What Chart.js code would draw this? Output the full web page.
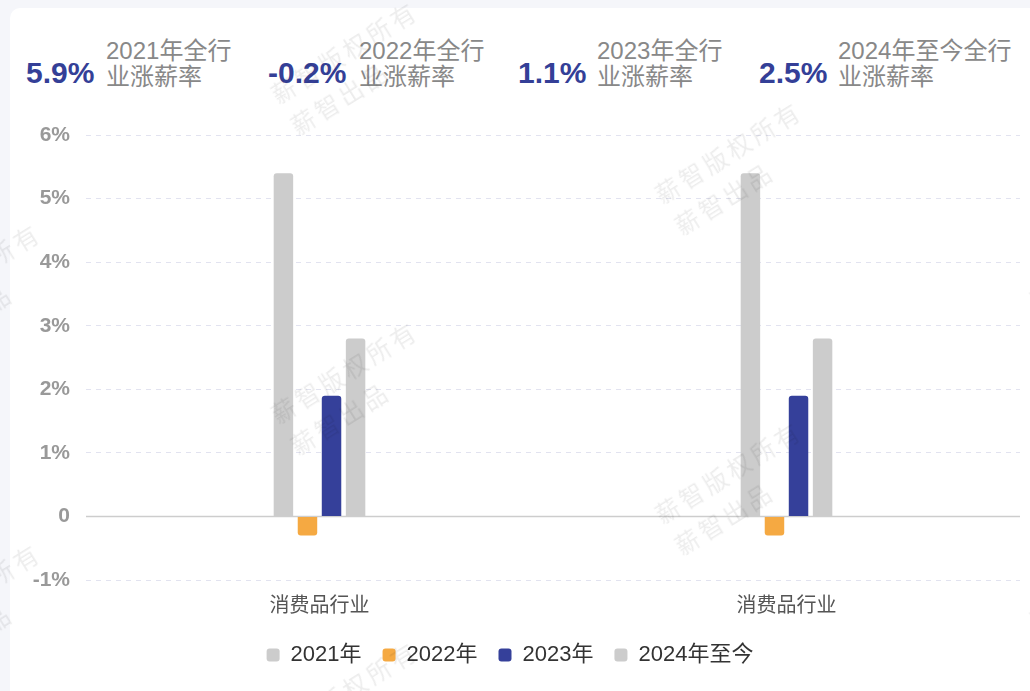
<!DOCTYPE html>
<html>
<head>
<meta charset="utf-8">
<script src="https://cdn.jsdelivr.net/npm/chart.js@4.4.1/dist/chart.umd.min.js"></script>
<style>
  html, body { margin:0; padding:0; width:1030px; height:691px; overflow:hidden; background:#f5f6fa; font-family:"Liberation Sans","Noto Sans CJK SC",sans-serif; }
  #card { position:absolute; left:10px; top:8px; width:1060px; height:720px; background:#fff; border-radius:10px; }
  .num { position:absolute; top:58px; font-size:30px; font-weight:bold; color:#343f97; line-height:30px; white-space:nowrap; }
  .lbl { position:absolute; top:38px; font-size:24px; color:#888; line-height:26px; white-space:nowrap; }
  #wrap { position:absolute; left:0; top:100px; width:1030px; height:591px; }
  .wm { position:absolute; font-size:24px; letter-spacing:4px; line-height:37px; color:rgba(0,0,0,0.075); white-space:nowrap; transform-origin:0 0; transform:rotate(-32deg); pointer-events:none; font-family:"Noto Sans CJK SC",sans-serif; }
</style>
</head>
<body>
<div id="card"></div>
<div id="head"></div>
<div id="wrap"><canvas id="c" width="1030" height="591"></canvas></div>
<div id="wms"></div>
<script>
// ---- data ----
const categories = ['消费品行业', '消费品行业'];
const seriesNames = ['2021年', '2022年', '2023年', '2024年至今'];
const values2021 = [5.4, 5.4];
const values2022 = [-0.3, -0.3];
const values2023 = [1.9, 1.9];
const values2024 = [2.8, 2.8];
const seriesColors = ['#cccccc', '#f5a942', '#35409a', '#cccccc'];
const yTickValues = [-1, 0, 1, 2, 3, 4, 5, 6];
const yTickLabels = ['-1%', '0', '1%', '2%', '3%', '4%', '5%', '6%'];
const headNumbers = ['5.9%', '-0.2%', '1.1%', '2.5%'];
const headLabels1 = ['2021年全行', '2022年全行', '2023年全行', '2024年至今全行'];
const headLabels2 = ['业涨薪率', '业涨薪率', '业涨薪率', '业涨薪率'];
const wmLine1 = '薪智版权所有';
const wmLine2 = '薪智出品';

// ---- header ----
const numX = [26, 268, 518, 759];
const lblX = [106, 359, 597, 838];
const head = document.getElementById('head');
headNumbers.forEach((n, i) => {
  const a = document.createElement('div'); a.className = 'num'; a.style.left = numX[i] + 'px'; a.textContent = n; head.appendChild(a);
  const b = document.createElement('div'); b.className = 'lbl'; b.style.left = lblX[i] + 'px';
  b.innerHTML = headLabels1[i] + '<br>' + headLabels2[i]; head.appendChild(b);
});

// ---- watermarks ----
const wmPos = [[263,80],[263,400],[263,720],[647,180],[647,500],[-114,302],[-114,622],[1022,285],[1022,605]];
const wms = document.getElementById('wms');
wmPos.forEach(p => {
  const d = document.createElement('div'); d.className = 'wm';
  d.style.left = p[0] + 'px'; d.style.top = p[1] + 'px';
  d.innerHTML = wmLine1 + '<br>' + wmLine2; wms.appendChild(d);
});

// ---- chart ----
Chart.defaults.font.family = '"Liberation Sans","Noto Sans CJK SC",sans-serif';
const zeroLine = {
  id: 'zeroLine',
  beforeDatasetsDraw(chart) {
    const y = chart.scales.y.getPixelForValue(0);
    const ctx = chart.ctx, a = chart.chartArea;
    ctx.save(); ctx.strokeStyle = '#cdcdcd'; ctx.lineWidth = 1.5;
    ctx.beginPath(); ctx.moveTo(a.left, y); ctx.lineTo(a.right, y); ctx.stroke(); ctx.restore();
  }
};
const allValues = [values2021, values2022, values2023, values2024];
new Chart(document.getElementById('c'), {
  type: 'bar',
  data: {
    labels: categories,
    datasets: seriesNames.map((n, i) => ({
      label: n, data: allValues[i], backgroundColor: seriesColors[i],
      borderRadius: 3, categoryPercentage: 0.206, barPercentage: 0.81
    }))
  },
  options: {
    responsive: false, animation: false,
    layout: { padding: { top: 35, right: 10, left: 0, bottom: 15 } },
    plugins: {
      tooltip: { enabled: false },
      legend: {
        position: 'bottom',
        labels: { color: '#333', font: { size: 22 }, boxWidth: 13, boxHeight: 13, padding: 21, useBorderRadius: true, borderRadius: 3 }
      }
    },
    scales: {
      x: {
        grid: { display: false }, border: { display: false },
        ticks: { color: '#555', font: { size: 20 }, padding: 6 },
        afterFit: s => { s.height = 43; }
      },
      y: {
        min: -1, max: 6,
        afterFit: s => { s.width = 86; },
        afterBuildTicks: s => { s.ticks = yTickValues.map(v => ({ value: v })); },
        grid: { color: ctx => ctx.tick && ctx.tick.value === 0 ? 'rgba(0,0,0,0)' : '#e2e3f0', lineWidth: 1, drawTicks: false },
        border: { display: false, dash: [5, 5] },
        ticks: {
          color: '#999', font: { size: 21, weight: 'bold' }, padding: 16,
          callback: v => yTickLabels[yTickValues.indexOf(v)]
        }
      }
    }
  },
  plugins: [zeroLine]
});
</script>
</body>
</html>
